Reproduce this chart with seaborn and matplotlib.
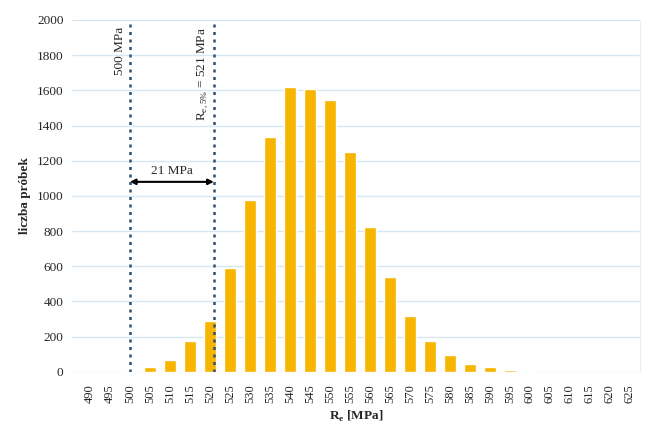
import numpy as np
import pandas as pd
import matplotlib
matplotlib.use("Agg")
import matplotlib.pyplot as plt
import seaborn as sns

# klasy granicy plastycznosci [MPa]
re_classes = list(range(490, 630, 5))
counts = [0, 0, 5, 25, 70, 175, 290, 590, 975, 1335, 1620, 1605, 1545, 1250,
          825, 540, 315, 175, 95, 45, 25, 10, 5, 2, 0, 0, 0, 0]
re_min = 500
re_5 = 521

df = pd.DataFrame({"re": [str(v) for v in re_classes], "n": counts})

sns.set_style("white")
plt.rcParams['font.family'] = ['Liberation Serif', 'DejaVu Serif']

fig = plt.figure(figsize=(6.47, 4.25), dpi=100)
ax = fig.add_axes([0.111, 0.125, 0.878, 0.828])

sns.barplot(data=df, x="re", y="n", color="#F7B500", saturation=1, width=0.62, ax=ax, zorder=3)

ax.set_ylim(0, 2000)
ax.set_yticks(range(0, 2001, 200))
ax.set_xlim(-0.9, len(re_classes) - 0.5)
ax.yaxis.grid(True, color="#d6e8f5", linewidth=1, zorder=0)
ax.set_axisbelow(True)
for s in ["top", "left", "bottom"]:
    ax.spines[s].set_visible(False)
ax.spines["right"].set_color("#e8f1f8")

ax.tick_params(axis="x", rotation=90, labelsize=9, length=0, pad=9)
ax.tick_params(axis="y", labelsize=9.5, length=0, pad=6)

ax.set_xlabel(r"R$_\mathregular{e}$ [MPa]", fontsize=9.5, fontweight="bold", labelpad=4)
ax.set_ylabel("liczba próbek", fontsize=9.5, fontweight="bold")


def pos(v):
    return (v - re_classes[0]) / 5


for v in [re_min, re_5]:
    ax.axvline(pos(v), color="#2f4f6f", linestyle=(0, (1.2, 1.8)), linewidth=1.8, zorder=4)

ax.text(pos(re_min) - 0.2, 1960, f"{re_min} MPa", rotation=90, ha="right", va="top", fontsize=9.5)
ax.text(pos(re_5) - 0.2, 1960, r"R$_\mathregular{e,5\%}$ = " + f"{re_5} MPa",
        rotation=90, ha="right", va="top", fontsize=9.5)

ax.annotate("", xy=(pos(re_min), 1080), xytext=(pos(re_5), 1080),
            arrowprops=dict(arrowstyle="<|-|>", color="black", lw=1.5, shrinkA=0, shrinkB=0,
                            mutation_scale=8))
ax.text((pos(re_min) + pos(re_5)) / 2, 1110, f"{re_5 - re_min} MPa", ha="center", va="bottom", fontsize=9.5)

fig.savefig("out.png", dpi=100)
